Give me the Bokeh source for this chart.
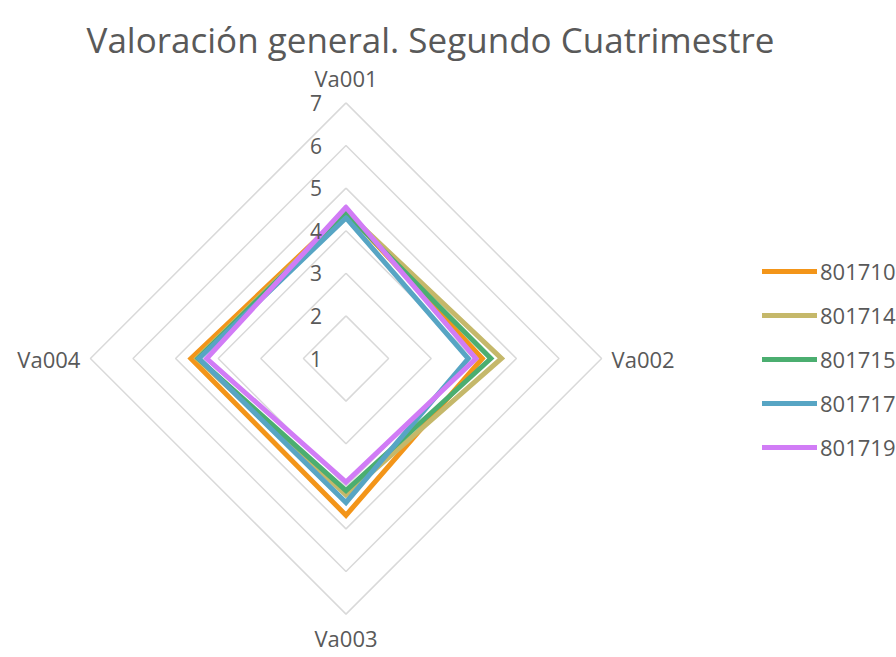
import math
from bokeh.plotting import figure
from bokeh.models import Range1d, Legend, LegendItem, Label
from bokeh.core.properties import value
from bokeh.embed import file_html
from bokeh.resources import INLINE

title_text = "Valoración general. Segundo Cuatrimestre"
categories = ["Va001", "Va002", "Va003", "Va004"]
series_names = ["801710", "801714", "801715", "801717", "801719"]
s801710 = [4.45, 4.20, 4.68, 4.64]
s801714 = [4.45, 4.65, 4.20, 4.50]
s801715 = [4.42, 4.40, 4.10, 4.47]
s801717 = [4.30, 3.87, 4.38, 4.45]
s801719 = [4.55, 4.05, 3.90, 4.27]
series_values = [s801710, s801714, s801715, s801717, s801719]
colors = ["#F39519", "#C5B86A", "#4BAE70", "#57A5C4", "#D17CF6"]
ticks = [1, 2, 3, 4, 5, 6, 7]
axis_min, axis_max = 1, 7

FONT = "Open Sans"
TXT = "#595959"

W, H = 896, 657
k = 42.6
cx, cy = 345.5, 358.0

p = figure(width=W, height=H, output_backend="svg", toolbar_location=None,
           x_axis_type=None, y_axis_type=None, min_border=0,
           x_range=Range1d(-cx / k, (W - cx) / k),
           y_range=Range1d(-(H - cy) / k, cy / k))
p.outline_line_color = None
p.background_fill_color = "white"

n = len(categories)
angles = [2 * math.pi * i / n for i in range(n)]

def pt(v, a):
    r = v - axis_min
    return r * math.sin(a), r * math.cos(a)

# grid rings
for t in ticks[1:]:
    xs = [pt(t, a)[0] for a in angles] + [pt(t, angles[0])[0]]
    ys = [pt(t, a)[1] for a in angles] + [pt(t, angles[0])[1]]
    p.line(xs, ys, line_color="#D9D9D9", line_width=1.5)

# series
items = []
for name, vals, col in zip(series_names, series_values, colors):
    xs = [pt(v, a)[0] for v, a in zip(vals, angles)]
    ys = [pt(v, a)[1] for v, a in zip(vals, angles)]
    xs.append(xs[0]); ys.append(ys[0])
    r = p.line(xs, ys, line_color=col, line_width=5, line_join="miter", line_cap="round")
    items.append(LegendItem(label=name, renderers=[r]))

# tick labels
p.text(x=[0] * len(ticks), y=[t - axis_min for t in ticks], text=[str(t) for t in ticks],
       text_font=value(FONT), text_font_size="21px", text_color=TXT,
       text_align="right", text_baseline="middle", x_offset=-24)

# category labels
aligns = ["center", "left", "center", "right"]
xoffs = [0, 10, 0, -10]
yoffs = [-25, 0, 24, 0]
for c, a, al, xo, yo in zip(categories, angles, aligns, xoffs, yoffs):
    x, y = pt(axis_max, a)
    p.text(x=[x], y=[y], text=[c], text_font=value(FONT), text_font_size="22px",
           text_color=TXT, text_align=al, text_baseline="middle", x_offset=xo, y_offset=yo)

legend = Legend(items=items, location=(762, 195), glyph_width=55, glyph_height=20,
                label_height=20, spacing=14, label_standoff=3, padding=0, margin=0,
                border_line_color=None, background_fill_alpha=0,
                label_text_font=FONT, label_text_font_size="22px", label_text_color=TXT,
                label_text_baseline="middle")
p.add_layout(legend)

title = Label(x=430, y=H - 39, x_units="screen", y_units="screen", text=title_text,
              text_align="center", text_baseline="alphabetic", text_font=FONT,
              text_font_size="35px", text_color=TXT)
p.add_layout(title)

open("out.html", "w").write(file_html(p, INLINE))
